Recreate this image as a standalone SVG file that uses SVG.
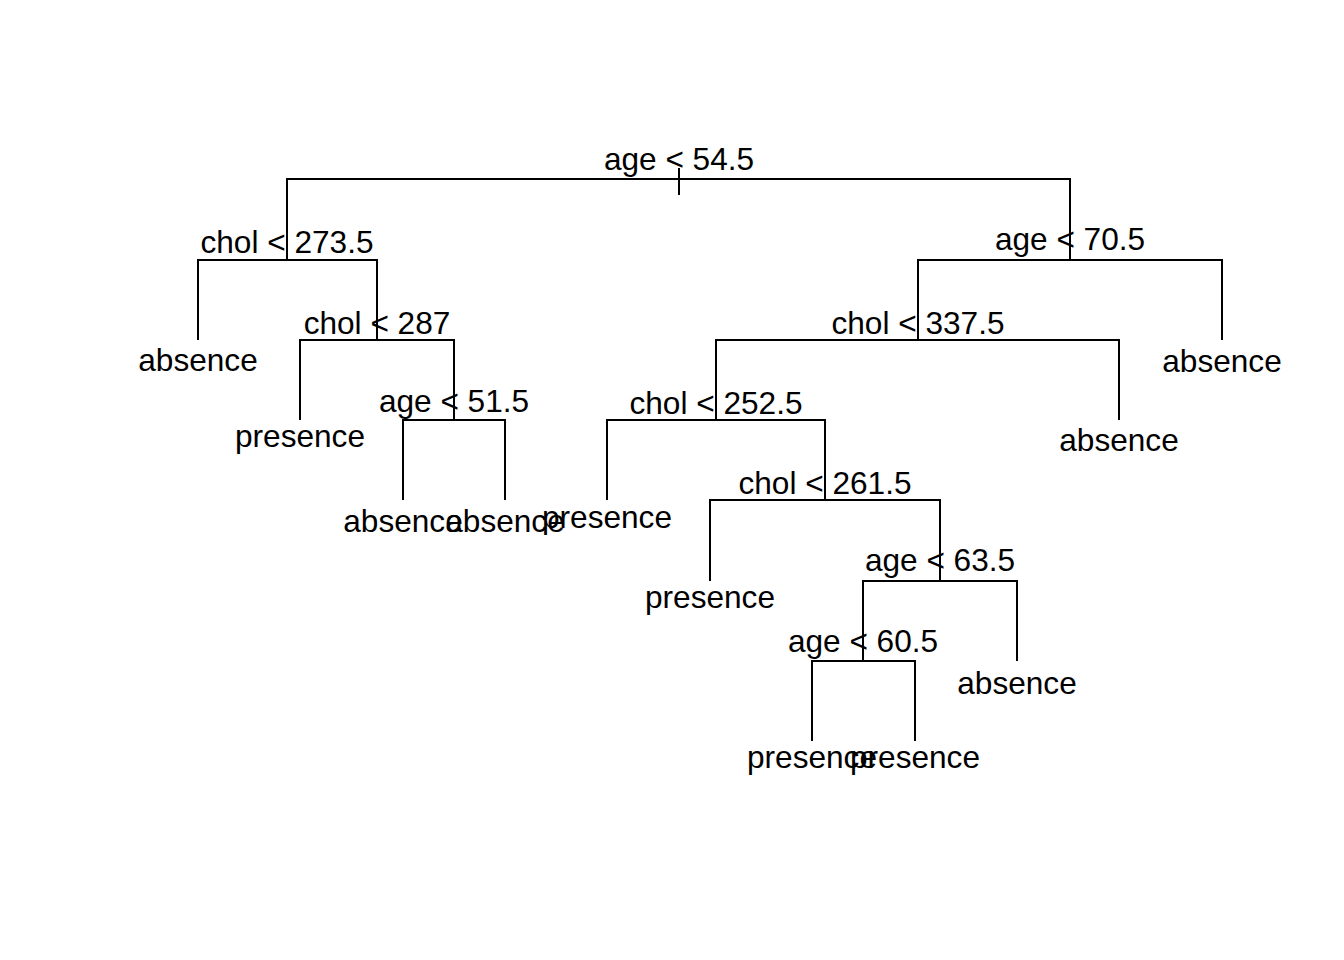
<svg xmlns="http://www.w3.org/2000/svg" width="1344" height="960" viewBox="0 0 1344 960">
<style>
.c{fill:none;stroke:#000;stroke-width:2;stroke-linecap:butt;stroke-linejoin:miter}
text{font-family:"Liberation Sans",Arial,sans-serif;font-size:31.6px;fill:#000;text-anchor:middle}
</style>
<rect width="1344" height="960" fill="#fff"/>
<g id="connectors">
<path class="c" d="M679 168V195"/>
<path class="c" d="M679 179H287V260"/>
<path class="c" d="M679 179H1070V260"/>
<path class="c" d="M287 260H198V340"/>
<path class="c" d="M287 260H377V340"/>
<path class="c" d="M377 340H300V420"/>
<path class="c" d="M377 340H454V420"/>
<path class="c" d="M454 420H403V500"/>
<path class="c" d="M454 420H505V500"/>
<path class="c" d="M1070 260H918V340"/>
<path class="c" d="M1070 260H1222V340"/>
<path class="c" d="M918 340H716V420"/>
<path class="c" d="M918 340H1119V420"/>
<path class="c" d="M716 420H607V500"/>
<path class="c" d="M716 420H825V500"/>
<path class="c" d="M825 500H710V581"/>
<path class="c" d="M825 500H940V581"/>
<path class="c" d="M940 581H863V661"/>
<path class="c" d="M940 581H1017V661"/>
<path class="c" d="M863 661H812V741"/>
<path class="c" d="M863 661H915V741"/>
</g>
<g id="node1"><text x="679" y="170">age &lt; 54.5</text></g>
<g id="node2"><text x="287" y="253">chol &lt; 273.5</text></g>
<g id="node4"><text x="198" y="371">absence</text></g>
<g id="node5"><text x="377" y="334">chol &lt; 287</text></g>
<g id="node10"><text x="300" y="447">presence</text></g>
<g id="node11"><text x="454" y="412">age &lt; 51.5</text></g>
<g id="node22"><text x="403" y="532">absence</text></g>
<g id="node23"><text x="505" y="532">absence</text></g>
<g id="node3"><text x="1070" y="250">age &lt; 70.5</text></g>
<g id="node6"><text x="918" y="334">chol &lt; 337.5</text></g>
<g id="node7"><text x="1222" y="372">absence</text></g>
<g id="node12"><text x="716" y="414">chol &lt; 252.5</text></g>
<g id="node13"><text x="1119" y="451">absence</text></g>
<g id="node24"><text x="607" y="528">presence</text></g>
<g id="node25"><text x="825" y="494">chol &lt; 261.5</text></g>
<g id="node50"><text x="710" y="608">presence</text></g>
<g id="node51"><text x="940" y="571">age &lt; 63.5</text></g>
<g id="node102"><text x="863" y="652">age &lt; 60.5</text></g>
<g id="node103"><text x="1017" y="694">absence</text></g>
<g id="node204"><text x="812" y="768">presence</text></g>
<g id="node205"><text x="915" y="768">presence</text></g>
</svg>
